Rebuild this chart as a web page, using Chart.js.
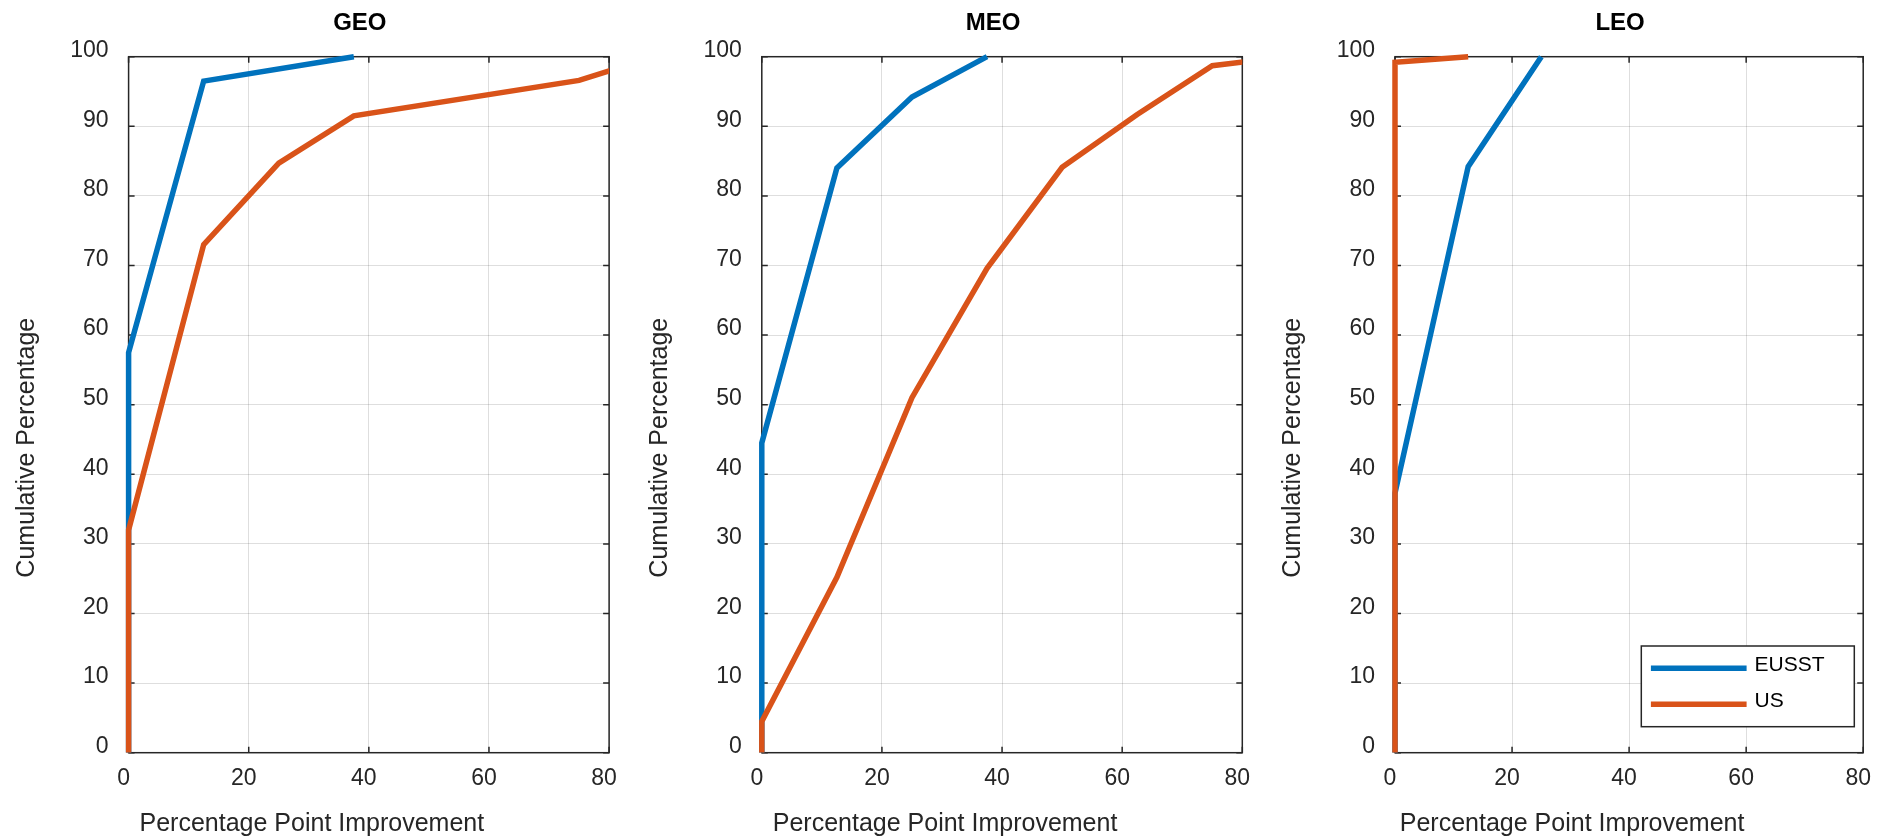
<!DOCTYPE html>
<html>
<head>
<meta charset="utf-8">
<title>Cumulative improvement by orbit</title>
<script src="https://cdn.jsdelivr.net/npm/chart.js@4.4.1/dist/chart.umd.min.js"></script>
<style>
  html, body { margin: 0; padding: 0; background: #fff; overflow: hidden; }
  #wrap { position: relative; width: 1888px; height: 837px; }
  #wrap canvas { position: absolute; left: 0; top: 0; }
</style>
</head>
<body>
<div id="wrap">
  <canvas id="geoChart" width="1888" height="837"></canvas>
  <canvas id="meoChart" width="1888" height="837"></canvas>
  <canvas id="leoChart" width="1888" height="837"></canvas>
</div>
<script>
// three cumulative curves, EUSST vs US, one panel per orbit regime

var seriesNames = ['EUSST', 'US'];
var xTicks = [0, 20, 40, 60, 80];
var yTicks = [0, 10, 20, 30, 40, 50, 60, 70, 80, 90, 100];

// GEO
var geoEusstX = [0, 0, 12.5, 37.5];
var geoEusstY = [0, 57.5, 96.5, 100];
var geoUsX = [0, 0, 12.5, 25, 37.5, 75, 87.5];
var geoUsY = [0, 32, 73, 84.7, 91.5, 96.6, 100];

// MEO
var meoEusstX = [0, 0, 12.5, 25, 37.5];
var meoEusstY = [0, 44.5, 84, 94.2, 100];
var meoUsX = [0, 0, 12.5, 25, 37.5, 50, 62.5, 75, 87.5];
var meoUsY = [0, 4.5, 25.2, 51, 69.6, 84.1, 91.7, 98.7, 100];

// LEO
var leoEusstX = [0, 0, 12.5, 25];
var leoEusstY = [0, 37.3, 84.2, 100];
var leoUsX = [0, 0, 12.5];
var leoUsY = [0, 99.2, 100];

var FONT = '"Liberation Sans", Arial, Helvetica, sans-serif';
var AXIS_COLOR = '#262626';
var BLUE = '#0072BD';
var ORANGE = '#D95319';
var LINE_W = 5.5;

function toPoints(xs, ys) {
  var pts = [];
  for (var i = 0; i < xs.length; i++) {
    pts.push({ x: xs[i], y: ys[i] });
  }
  return pts;
}

// box, inward ticks, titles and legend drawn the matlab way
var matlabFrame = {
  id: 'matlabFrame',
  beforeDatasetsDraw: function (chart) {
    var a = chart.chartArea;
    var ctx = chart.ctx;
    var xs = chart.scales.x;
    var ys = chart.scales.y;
    ctx.save();
    ctx.strokeStyle = AXIS_COLOR;
    ctx.lineWidth = 1.5;
    ctx.beginPath();
    xs.ticks.forEach(function (t) {
      var px = xs.getPixelForValue(t.value);
      ctx.moveTo(px, a.bottom); ctx.lineTo(px, a.bottom - 6);
      ctx.moveTo(px, a.top); ctx.lineTo(px, a.top + 6);
    });
    ys.ticks.forEach(function (t) {
      var py = ys.getPixelForValue(t.value);
      ctx.moveTo(a.left, py); ctx.lineTo(a.left + 6, py);
      ctx.moveTo(a.right, py); ctx.lineTo(a.right - 6, py);
    });
    ctx.stroke();
    ctx.strokeRect(a.left, a.top, a.right - a.left, a.bottom - a.top);
    ctx.restore();
  },
  afterDraw: function (chart, args, opts) {
    var a = chart.chartArea;
    var ctx = chart.ctx;
    var cx = (a.left + a.right) / 2;
    var cy = (a.top + a.bottom) / 2;
    ctx.save();

    ctx.fillStyle = '#000';
    ctx.font = 'bold 24px ' + FONT;
    ctx.textAlign = 'center';
    ctx.textBaseline = 'alphabetic';
    ctx.fillText(opts.title, cx - 9, a.top - 26.7);

    ctx.fillStyle = AXIS_COLOR;
    ctx.font = '25px ' + FONT;
    ctx.fillText(opts.xTitle, cx - 57, a.bottom + 78.3);

    ctx.save();
    ctx.translate(a.left - 94.6, cy + 43);
    ctx.rotate(-Math.PI / 2);
    ctx.fillText(opts.yTitle, 0, 0);
    ctx.restore();

    if (opts.legend) {
      var bx = a.left + 246.3;
      var by = a.bottom - 106.7;
      var bw = 213;
      var bh = 80.7;
      ctx.fillStyle = '#fff';
      ctx.fillRect(bx, by, bw, bh);
      ctx.strokeStyle = AXIS_COLOR;
      ctx.lineWidth = 1.5;
      ctx.strokeRect(bx, by, bw, bh);
      var rows = [22.3, 58.3];
      var base = [24.7, 60.7];
      chart.data.datasets.forEach(function (ds, i) {
        ctx.strokeStyle = ds.borderColor;
        ctx.lineWidth = LINE_W;
        ctx.beginPath();
        ctx.moveTo(bx + 9.6, by + rows[i]);
        ctx.lineTo(bx + 105.3, by + rows[i]);
        ctx.stroke();
        ctx.fillStyle = '#000';
        ctx.font = '21px ' + FONT;
        ctx.textAlign = 'left';
        ctx.fillText(ds.label, bx + 113.3, by + base[i]);
      });
    }
    ctx.restore();
  }
};

function makeDataset(label, color, xs, ys, order) {
  return {
    label: label,
    data: toPoints(xs, ys),
    borderColor: color,
    backgroundColor: color,
    borderWidth: LINE_W,
    pointRadius: 0,
    tension: 0,
    fill: false,
    order: order,
    clip: { left: 5, top: 5, right: 0, bottom: 0 }
  };
}

function renderPanel(elementId, title, plotLeft, eusstX, eusstY, usX, usY, showLegend) {
  var ctx = document.getElementById(elementId).getContext('2d');
  var yWidth = 60;
  var xHeight = 40;
  var plotWidth = 480.5;

  var config = {
    type: 'line',
    data: {
      datasets: [
        // US drawn over EUSST, as in the original plot
        makeDataset(seriesNames[0], BLUE, eusstX, eusstY, 1),
        makeDataset(seriesNames[1], ORANGE, usX, usY, 0)
      ]
    },
    options: {
      responsive: false,
      animation: false,
      devicePixelRatio: 1,
      layout: {
        padding: {
          left: plotLeft - yWidth,
          right: 1888 - plotLeft - plotWidth,
          top: 56.7,
          bottom: 837 - 752.7 - xHeight
        }
      },
      plugins: {
        legend: { display: false },
        tooltip: { enabled: false },
        matlabFrame: {
          title: title,
          xTitle: 'Percentage Point Improvement',
          yTitle: 'Cumulative Percentage',
          legend: showLegend
        }
      },
      scales: {
        x: {
          type: 'linear',
          min: xTicks[0],
          max: xTicks[xTicks.length - 1],
          afterFit: function (scale) { scale.height = xHeight; },
          afterBuildTicks: function (scale) {
            scale.ticks = xTicks.map(function (v) { return { value: v }; });
          },
          ticks: {
            color: AXIS_COLOR,
            font: { family: FONT, size: 23 },
            padding: 12,
            labelOffset: -5,
            maxRotation: 0
          },
          grid: { color: 'rgba(0,0,0,0.13)', lineWidth: 1, drawTicks: false },
          border: { display: false }
        },
        y: {
          type: 'linear',
          min: yTicks[0],
          max: yTicks[yTicks.length - 1],
          afterFit: function (scale) { scale.width = yWidth; },
          afterBuildTicks: function (scale) {
            scale.ticks = yTicks.map(function (v) { return { value: v }; });
          },
          ticks: {
            color: AXIS_COLOR,
            font: { family: FONT, size: 23 },
            padding: 20,
            labelOffset: -6
          },
          grid: { color: 'rgba(0,0,0,0.13)', lineWidth: 1, drawTicks: false },
          border: { display: false }
        }
      }
    },
    plugins: [matlabFrame]
  };

  return new Chart(ctx, config);
}

renderPanel('geoChart', 'GEO', 128.6, geoEusstX, geoEusstY, geoUsX, geoUsY, false);
renderPanel('meoChart', 'MEO', 761.8, meoEusstX, meoEusstY, meoUsX, meoUsY, false);
renderPanel('leoChart', 'LEO', 1395, leoEusstX, leoEusstY, leoUsX, leoUsY, true);
</script>
</body>
</html>
